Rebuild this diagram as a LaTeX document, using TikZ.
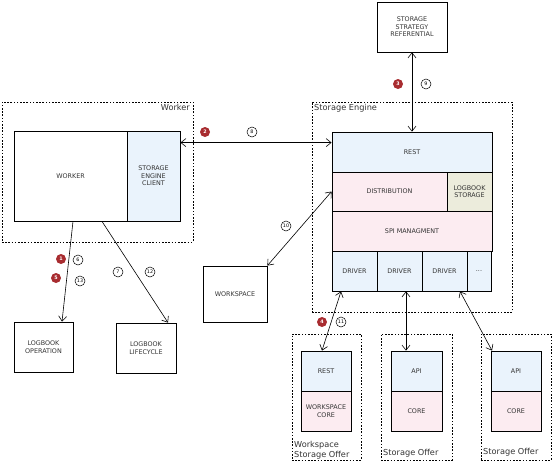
\documentclass[tikz,border=0pt]{standalone}
\usepackage{fontspec}
\setmainfont{DejaVu Sans}
\usetikzlibrary{arrows.meta}
\definecolor{paleblue}{RGB}{234,243,252}
\definecolor{palepink}{RGB}{252,236,241}
\definecolor{palebeige}{RGB}{236,236,220}
\definecolor{badgered}{RGB}{168,44,48}
\begin{document}
\begin{tikzpicture}[x=1pt,y=-1pt,
  box/.style={draw, line width=0.8pt, inner sep=1pt, align=center,
    font=\fontsize{6.4}{7.6}\selectfont, text=black!80},
  container/.style={draw, line width=0.6pt, dash pattern=on 1.6pt off 1.6pt},
  grouplabel/.style={font=\fontsize{8.2}{9.6}\selectfont, text=black!80, inner sep=0pt},
  link/.style={line width=0.6pt, -{Straight Barb[length=5pt,width=8pt]}},
  dlink/.style={line width=0.6pt, {Straight Barb[length=5pt,width=8pt]}-{Straight Barb[length=5pt,width=8pt]}},
  redbadge/.style={circle, fill=badgered, text=white, inner sep=0pt, minimum size=10pt,
    font=\fontsize{4.8}{5}\selectfont\bfseries},
  numbadge/.style={circle, draw, line width=0.5pt, fill=white, inner sep=0pt, minimum size=10pt,
    font=\fontsize{4.8}{5}\selectfont},
]
\useasboundingbox (0,0) rectangle (553,461);

% ---- Worker group ----
\node[container, minimum width=191pt, minimum height=140pt] (workergrp) at (97.5,172) {};
\node[grouplabel, anchor=north east] (workerlbl) at (190,104) {Worker};
\node[box, minimum width=113pt, minimum height=90pt] (worker) at (70.5,176) {WORKER};
\node[box, fill=paleblue, minimum width=53pt, minimum height=90pt] (sec) at (153.5,176) {STORAGE\\ENGINE\\CLIENT};

% ---- Storage Engine group ----
\node[container, minimum width=200pt, minimum height=210pt] (enginegrp) at (412,207) {};
\node[grouplabel, anchor=north west] (enginelbl) at (314,104) {Storage Engine};
\node[box, fill=paleblue, minimum width=160pt, minimum height=40pt] (rest) at (412,152) {REST};
\node[box, fill=palepink, minimum width=115pt, minimum height=39pt] (dist) at (389.5,191.5) {DISTRIBUTION};
\node[box, fill=palebeige, minimum width=45pt, minimum height=39pt] (lbs) at (469.5,191.5) {LOGBOOK\\STORAGE};
\node[box, fill=palepink, minimum width=160pt, minimum height=40pt] (spi) at (412,231) {SPI MANAGMENT};
\node[box, fill=paleblue, minimum width=45pt, minimum height=40pt] (d1) at (354.5,271) {DRIVER};
\node[box, fill=paleblue, minimum width=45pt, minimum height=40pt] (d2) at (399.5,271) {DRIVER};
\node[box, fill=paleblue, minimum width=45pt, minimum height=40pt] (d3) at (444.5,271) {DRIVER};
\node[box, fill=paleblue, minimum width=24pt, minimum height=40pt] (dmore) at (479,271) {...};

% ---- Standalone boxes ----
\node[box, minimum width=70pt, minimum height=50pt] (ssr) at (412,27) {STORAGE\\STRATEGY\\REFERENTIAL};
\node[box, minimum width=64pt, minimum height=56pt] (ws) at (235,294) {WORKSPACE};
\node[box, minimum width=59pt, minimum height=50pt] (logop) at (43.5,347) {LOGBOOK\\OPERATION};
\node[box, minimum width=60pt, minimum height=50pt] (loglc) at (146,348) {LOGBOOK\\LIFECYCLE};

% ---- Storage offers ----
\node[container, minimum width=69pt, minimum height=126pt] (wsogrp) at (326.5,397) {};
\node[grouplabel, anchor=south west, align=left] (wsolbl) at (294,459) {Workspace\\Storage Offer};
\node[box, fill=paleblue, minimum width=50pt, minimum height=40pt] (wrest) at (326,371) {REST};
\node[box, fill=palepink, minimum width=50pt, minimum height=40pt] (wcore) at (326,411) {WORKSPACE\\CORE};

\node[container, minimum width=71pt, minimum height=126pt] (so2grp) at (416.5,397) {};
\node[grouplabel, anchor=south west] (so2lbl) at (383,457) {Storage Offer};
\node[box, fill=paleblue, minimum width=51pt, minimum height=40pt] (api2) at (416.5,371) {API};
\node[box, fill=palepink, minimum width=51pt, minimum height=40pt] (core2) at (416.5,411) {CORE};

\node[container, minimum width=70pt, minimum height=126pt] (so3grp) at (516,397) {};
\node[grouplabel, anchor=south west] (so3lbl) at (483,456) {Storage Offer};
\node[box, fill=paleblue, minimum width=50pt, minimum height=40pt] (api3) at (516,371) {API};
\node[box, fill=palepink, minimum width=50pt, minimum height=40pt] (core3) at (516,411) {CORE};

% ---- Connectors ----
\draw[dlink] ([yshift=-12pt]sec.north east) -- ([yshift=-11pt]rest.north west);
\draw[dlink] (ssr.south) -- (rest.north);
\draw[dlink] (ws.north east) -- (dist.west);
\draw[link] ([xshift=2.5pt]worker.south) -- ([xshift=18.5pt]logop.north);
\draw[link] ([xshift=31.5pt]worker.south) -- ([xshift=22pt]loglc.north);
\draw[dlink] ([xshift=-13.5pt]d1.south) -- ([xshift=-4pt]wrest.north);
\draw[dlink] ([xshift=6.5pt]d2.south) -- ([xshift=-10.5pt]api2.north);
\draw[dlink] ([xshift=15.5pt]d3.south) -- ([xshift=-24pt]api3.north);

% ---- Step badges ----
\node[redbadge] (b1) at (61,259) {1};
\node[numbadge] (b6) at (78,260) {6};
\node[redbadge] (b5) at (56,278) {5};
\node[numbadge] (b13) at (80,281) {13};
\node[numbadge] (b7) at (118,272) {7};
\node[numbadge] (b12) at (150,272) {12};
\node[redbadge] (b2) at (205,132) {2};
\node[numbadge] (b8) at (252,132) {8};
\node[redbadge] (b3) at (398,84) {3};
\node[numbadge] (b9) at (426,84) {9};
\node[numbadge] (b10) at (286,226) {10};
\node[redbadge] (b4) at (322,322) {4};
\node[numbadge] (b11) at (341,322) {11};
\end{tikzpicture}
\end{document}
